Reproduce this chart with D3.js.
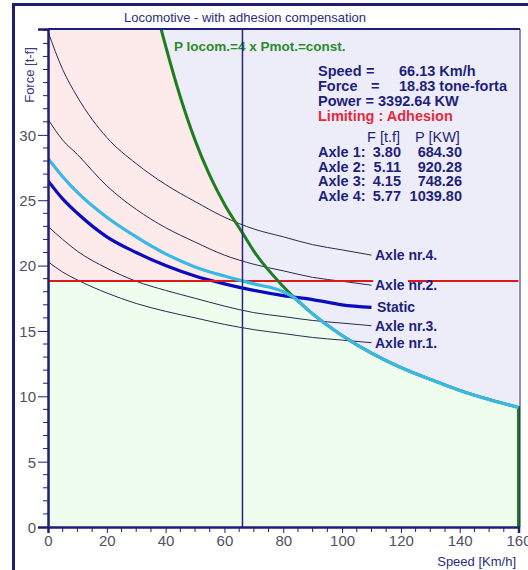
<!DOCTYPE html>
<html>
<head>
<meta charset="utf-8">
<script src="https://cdn.jsdelivr.net/npm/d3@7"></script>
<style>
  body { margin: 0; background: #ffffff; }
  svg { display: block; font-family: Arial, "Liberation Sans", sans-serif; }
</style>
</head>
<body>
<div id="chart"></div>
<script>
// ---- data ----
const axleSpeeds = [0, 5, 10, 20, 30, 40, 50, 60, 70, 80, 90, 100, 110];
const axle1 = [20.3, 19.5, 18.9, 17.9, 17.1, 16.5, 16.0, 15.5, 15.1, 14.8, 14.5, 14.3, 14.1];
const axle2 = [31.2, 29.6, 28.5, 26.1, 24.3, 22.9, 21.8, 20.8, 20.1, 19.6, 19.1, 18.8, 18.5];
const axle3 = [23.0, 22.0, 21.1, 19.8, 18.8, 18.1, 17.5, 16.9, 16.4, 16.1, 15.8, 15.6, 15.4];
const axle4 = [37.9, 35.0, 32.9, 29.8, 27.8, 26.2, 24.9, 23.7, 22.8, 22.2, 21.6, 21.2, 20.8];
const staticForce = [26.5, 25.1, 24.0, 22.2, 21.0, 20.0, 19.2, 18.6, 18.1, 17.7, 17.4, 17.0, 16.8];

const cyanSpeeds = [0, 5, 10, 20, 30, 40, 50, 60, 66.13, 70, 80, 83.3, 90, 100, 110, 120, 130, 140, 150, 160];
const cyanForce  = [28.2, 26.8, 25.6, 23.7, 22.2, 20.9, 19.9, 19.2, 18.83, 18.6, 18.0, 17.6, 16.3, 14.65, 13.3, 12.2, 11.3, 10.45, 9.75, 9.15];

const powerSpeeds = [38.45, 40, 45, 50, 55, 60, 66.13, 70, 80, 90, 100, 110, 120, 130, 140, 150, 160];
const powerForce  = [38.1, 36.8, 32.9, 29.6, 26.9, 24.7, 22.5, 21.1, 18.4, 16.3, 14.65, 13.3, 12.2, 11.3, 10.45, 9.75, 9.15];

const opSpeed = 66.13;
const opForce = 18.83;

const curveNames = ["Axle nr.4.", "Axle nr.2.", "Static", "Axle nr.3.", "Axle nr.1."];

const infoLines = ["Speed", "Force", "Power = 3392.64 KW"];
const infoValues = ["66.13 Km/h", "18.83 tone-forta"];
const axleNames = ["Axle 1:", "Axle 2:", "Axle 3:", "Axle 4:"];
const axleF = [3.80, 5.11, 4.15, 5.77];
const axleP = [684.30, 920.28, 748.26, 1039.80];

const xTicks = [0, 20, 40, 60, 80, 100, 120, 140, 160];
const yTicks = [0, 5, 10, 15, 20, 25, 30];

// ---- layout ----
const width = 528, height = 570;
const navy = "#1e1e78";
const textNavy = "#1f1f7c";

const svg = d3.select("#chart")
  .append("svg")
    .attr("width", width)
    .attr("height", height);

// Outer frame
svg.append("rect")
  .attr("x", 13.5).attr("y", 4.5)
  .attr("width", 600).attr("height", 600)
  .attr("fill", "#ffffff")
  .attr("stroke", navy)
  .attr("stroke-width", 3);

svg.append("text")
  .text("Locomotive - with adhesion compensation")
  .attr("x", 245).attr("y", 22)
  .attr("text-anchor", "middle")
  .attr("font-size", "13px")
  .attr("fill", "#2b2b80");

// Scales
const xScale = d3.scaleLinear().domain([0, 160]).range([48, 518.5]);
const yScale = d3.scaleLinear().domain([0, 38.1]).range([527, 29]);

svg.append("clipPath").attr("id", "plot-clip")
  .append("rect")
    .attr("x", 48).attr("y", 29)
    .attr("width", 473).attr("height", 498);

const plot = svg.append("g").attr("clip-path", "url(#plot-clip)");

// Background regions
plot.append("rect")
  .attr("x", 48).attr("y", 29)
  .attr("width", 470.5).attr("height", 498)
  .attr("fill", "#ededfa");

const line = d3.line()
  .x(d => xScale(d[0]))
  .y(d => yScale(d[1]));

const powerPts = powerSpeeds.map((v, i) => [v, powerForce[i]]);
const cyanPts = cyanSpeeds.map((v, i) => [v, cyanForce[i]]);

const pinkPts = [[0, 38.1]]
  .concat(powerPts.filter(d => d[0] <= opSpeed))
  .concat([[opSpeed, opForce], [0, opForce]]);
plot.append("path")
  .attr("d", line(pinkPts) + "Z")
  .attr("fill", "#fdeaea");

const greenPts = [[0, 0], [0, opForce]]
  .concat(cyanPts.filter(d => d[0] >= opSpeed))
  .concat([[160, 0]]);
plot.append("path")
  .attr("d", line(greenPts) + "Z")
  .attr("fill", "#effdef");

// Curves
const smooth = d3.line()
  .x(d => xScale(d[0]))
  .y(d => yScale(d[1]))
  .curve(d3.curveMonotoneX);

const thinCurves = [axle4, axle2, axle3, axle1];
thinCurves.forEach(arr => {
  plot.append("path")
    .attr("d", smooth(axleSpeeds.map((v, i) => [v, arr[i]])))
    .attr("fill", "none")
    .attr("stroke", "#2a2a50")
    .attr("stroke-width", 1);
});

plot.append("path")
  .attr("d", smooth(axleSpeeds.map((v, i) => [v, staticForce[i]])))
  .attr("fill", "none")
  .attr("stroke", "#0a0ac0")
  .attr("stroke-width", 3.2);

// Adhesion force line
plot.append("line")
  .attr("x1", xScale(0)).attr("x2", xScale(160))
  .attr("y1", yScale(opForce)).attr("y2", yScale(opForce))
  .attr("stroke", "#e01818")
  .attr("stroke-width", 2);

// Power curve
plot.append("path")
  .attr("d", smooth(powerPts) + "L" + xScale(160) + "," + yScale(0))
  .attr("fill", "none")
  .attr("stroke", "#1f7d1f")
  .attr("stroke-width", 3);

// Compensated curve
plot.append("path")
  .attr("d", smooth(cyanPts))
  .attr("fill", "none")
  .attr("stroke", "#38b8e6")
  .attr("stroke-width", 3.2);

svg.append("text")
  .text("P locom.=4 x Pmot.=const.")
  .attr("x", 174).attr("y", 51)
  .attr("font-size", "13.5px")
  .attr("font-weight", "bold")
  .attr("fill", "#2a8a2a");

// Operating speed line
svg.append("line")
  .attr("x1", xScale(opSpeed)).attr("x2", xScale(opSpeed))
  .attr("y1", 29).attr("y2", 527)
  .attr("stroke", "#26267e")
  .attr("stroke-width", 1.5);

// Curve labels
const curveEnds = [axle4, axle2, staticForce, axle3, axle1].map(a => a[a.length - 1]);
svg.append("rect")
  .attr("x", 373).attr("y", yScale(opForce) - 3)
  .attr("width", 35).attr("height", 6)
  .attr("fill", "#ededfa");
svg.selectAll(".curve-label")
  .data(curveNames)
  .join("text")
    .attr("class", "curve-label")
    .text(d => d)
    .attr("x", (d, i) => d === "Static" ? 377 : 375)
    .attr("y", (d, i) => yScale(curveEnds[i]) + 5)
    .attr("font-size", "14px")
    .attr("font-weight", "bold")
    .attr("fill", textNavy);

// Info block
const info = svg.append("g")
  .attr("font-size", "14.5px")
  .attr("font-weight", "bold")
  .attr("fill", textNavy);

info.append("text").text(infoLines[0]).attr("x", 318).attr("y", 76);
info.append("text").text("=").attr("x", 366).attr("y", 76);
info.append("text").text(infoValues[0]).attr("x", 399).attr("y", 76);
info.append("text").text(infoLines[1]).attr("x", 318).attr("y", 91);
info.append("text").text("=").attr("x", 371).attr("y", 91);
info.append("text").text(infoValues[1]).attr("x", 399).attr("y", 91);
info.append("text").text(infoLines[2]).attr("x", 318).attr("y", 106);
info.append("text").text("Limiting : Adhesion")
  .attr("x", 318).attr("y", 121)
  .attr("fill", "#e8283c");
info.append("text").text("F [t.f]").attr("x", 367).attr("y", 142).attr("font-weight", "normal");
info.append("text").text("P [KW]").attr("x", 415).attr("y", 142).attr("font-weight", "normal");

axleNames.forEach((name, i) => {
  const y = 157 + i * 14.5;
  info.append("text").text(name).attr("x", 318).attr("y", y);
  info.append("text").text(axleF[i].toFixed(2))
    .attr("x", 401).attr("y", y).attr("text-anchor", "end");
  info.append("text").text(axleP[i].toFixed(2))
    .attr("x", 462).attr("y", y).attr("text-anchor", "end");
});

// Plot border
svg.append("line")
  .attr("x1", 48).attr("x2", 520).attr("y1", 29).attr("y2", 29)
  .attr("stroke", navy).attr("stroke-width", 2);
svg.append("line")
  .attr("x1", 520).attr("x2", 520).attr("y1", 29).attr("y2", 527)
  .attr("stroke", navy).attr("stroke-width", 1);

// Axes
const leftAxis = d3.axisLeft(yScale)
  .tickValues(yTicks)
  .tickSize(10)
  .tickPadding(2);
const yAxis = svg.append("g")
  .attr("transform", `translate(48, 0)`)
  .call(leftAxis);
yAxis.append("g")
  .selectAll("line")
  .data(d3.range(0, 39).filter(v => v % 5 !== 0 || v > 30))
  .join("line")
    .attr("x1", -5).attr("x2", 0)
    .attr("y1", d => yScale(d)).attr("y2", d => yScale(d))
    .attr("stroke", navy);

const bottomAxis = d3.axisBottom(xScale)
  .tickValues(xTicks)
  .tickSize(6)
  .tickPadding(2);
const xAxis = svg.append("g")
  .attr("transform", `translate(0, 527)`)
  .call(bottomAxis);
xAxis.append("g")
  .selectAll("line")
  .data(d3.range(0, 161, 5).filter(v => v % 20 !== 0))
  .join("line")
    .attr("x1", d => xScale(d)).attr("x2", d => xScale(d))
    .attr("y1", 0).attr("y2", 5)
    .attr("stroke", navy);

[yAxis, xAxis].forEach(ax => {
  ax.select(".domain").attr("stroke", navy).attr("stroke-width", 2.5);
  ax.selectAll(".tick line").attr("stroke", navy);
  ax.selectAll(".tick text")
    .attr("font-size", "15px")
    .attr("font-family", "Arial, 'Liberation Sans', sans-serif")
    .attr("fill", "#50505e");
});
yAxis.selectAll(".tick text").attr("dy", "0.36em");

// Axis titles
svg.append("text")
  .text("Force [t-f]")
  .attr("transform", "translate(34, 75) rotate(-90)")
  .attr("text-anchor", "middle")
  .attr("font-size", "13px")
  .attr("fill", "#3a3a80");

svg.append("text")
  .text("Speed [Km/h]")
  .attr("x", 516).attr("y", 566)
  .attr("text-anchor", "end")
  .attr("font-size", "13px")
  .attr("fill", "#2b2b80");
</script>
</body>
</html>
